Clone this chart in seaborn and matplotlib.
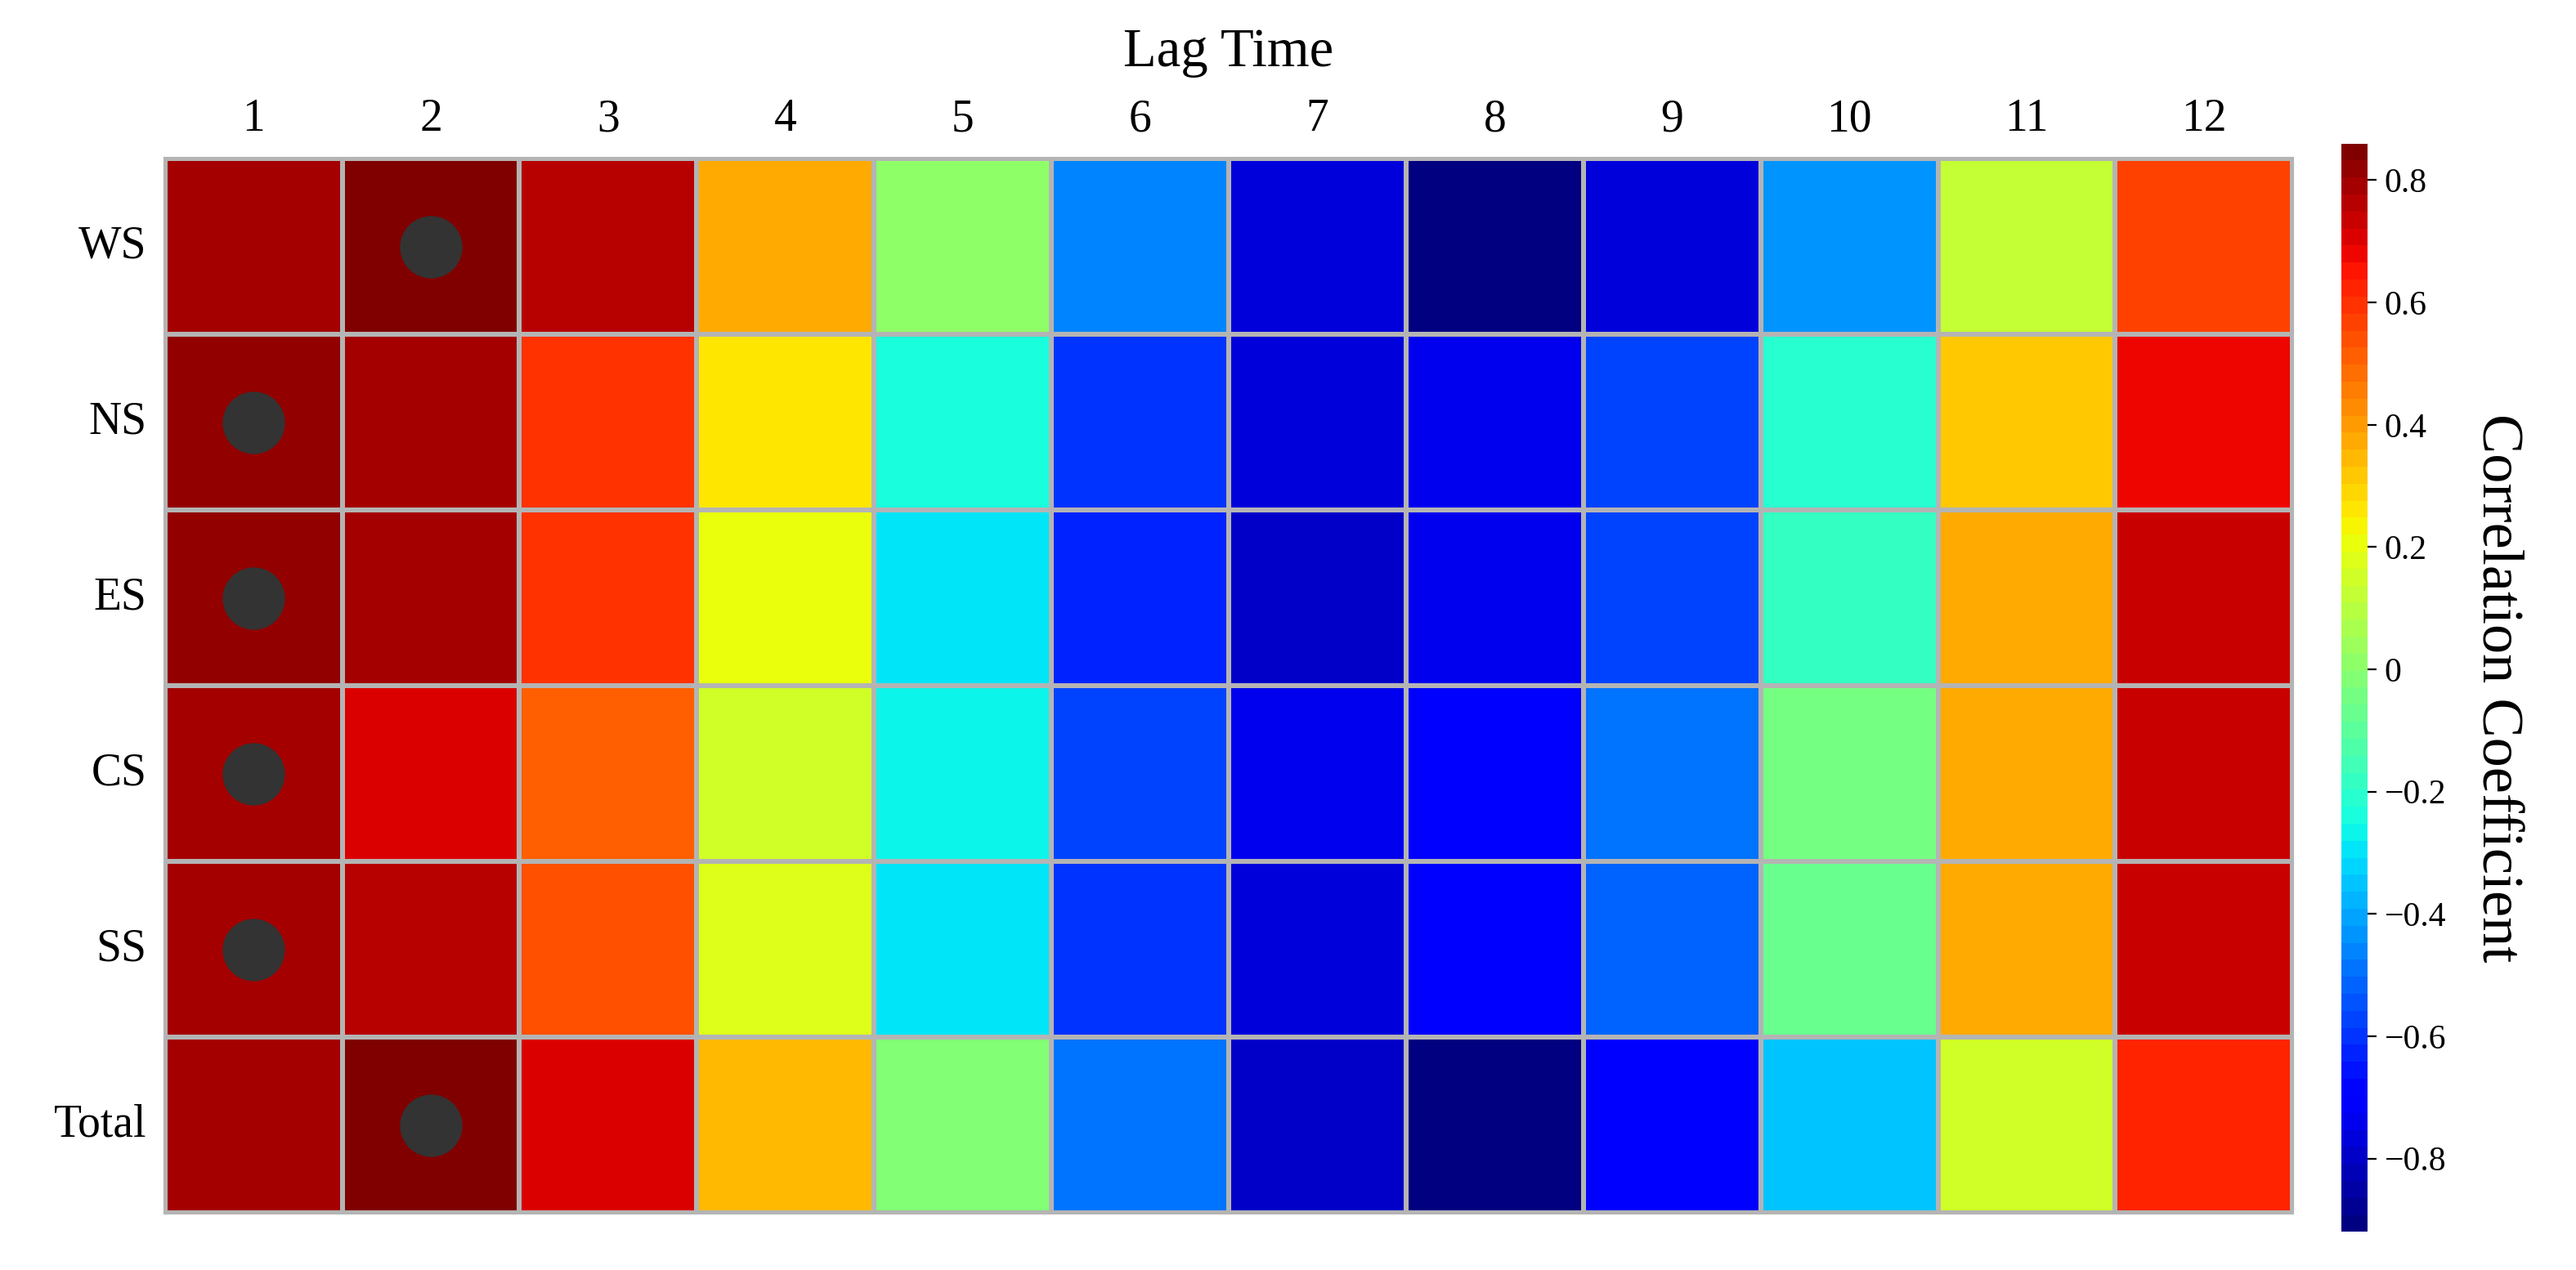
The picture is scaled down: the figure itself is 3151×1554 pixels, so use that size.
import numpy as np
import pandas as pd
import matplotlib
matplotlib.use('Agg')
import matplotlib.pyplot as plt
import seaborn as sb

rows = ['WS', 'NS', 'ES', 'CS', 'SS', 'Total']
lags = [str(i) for i in range(1, 13)]
ws = [0.78, 0.84, 0.75, 0.38, 0.02, -0.45, -0.78, -0.90, -0.76, -0.42, 0.12, 0.58]
ns = [0.82, 0.78, 0.60, 0.25, -0.25, -0.60, -0.77, -0.74, -0.56, -0.20, 0.32, 0.68]
es = [0.82, 0.78, 0.60, 0.22, -0.30, -0.64, -0.80, -0.75, -0.57, -0.18, 0.38, 0.74]
cs = [0.78, 0.70, 0.50, 0.15, -0.28, -0.56, -0.74, -0.70, -0.48, -0.05, 0.38, 0.74]
ss = [0.80, 0.75, 0.55, 0.18, -0.30, -0.60, -0.76, -0.72, -0.52, -0.08, 0.38, 0.74]
total = [0.78, 0.84, 0.72, 0.35, -0.02, -0.50, -0.80, -0.90, -0.72, -0.36, 0.16, 0.62]

df = pd.DataFrame([ws, ns, es, cs, ss, total], index=rows, columns=lags)

plt.rcParams['font.family'] = ['Liberation Serif', 'DejaVu Serif']
fig = plt.figure(figsize=(15.755, 7.77), dpi=200)
ax = fig.add_axes([0.064, 0.045, 0.826, 0.83])
cax = fig.add_axes([0.909, 0.03, 0.01, 0.857])

cmap = plt.get_cmap('jet', 64)
sb.heatmap(df, ax=ax, cbar_ax=cax, cmap=cmap, vmin=-0.92, vmax=0.86,
           linewidths=1.5, linecolor='#b4b4b4')
ax.add_patch(plt.Rectangle((0, 0), 12, 6, fill=False, ec='#b4b4b4', lw=1.5, clip_on=False))

# mark row maxima
for i, r in enumerate(rows):
    j = int(np.argmax(df.loc[r].values))
    ax.scatter(j + 0.5, i + 0.5, s=700, color='#333333', zorder=3)

ax.xaxis.tick_top()
ax.xaxis.set_label_position('top')
ax.set_xticklabels(lags, fontsize=20)
ax.set_yticklabels(rows, rotation=0, fontsize=20)
ax.tick_params(length=0, pad=8)
ax.set_xlabel('Lag Time', fontsize=24, labelpad=14)
ax.set_ylabel('')

ticks = np.arange(-0.8, 0.81, 0.2)
cax.set_yticks(ticks)
cax.set_yticklabels(['0' if abs(t) < 1e-9 else f'{t:.1f}'.replace('-', '\u2212') for t in ticks], fontsize=15)
cax.tick_params(length=4)
cax.set_ylabel('Correlation Coefficient', fontsize=26, rotation=270, labelpad=34)

fig.savefig('out.png', dpi=200)
